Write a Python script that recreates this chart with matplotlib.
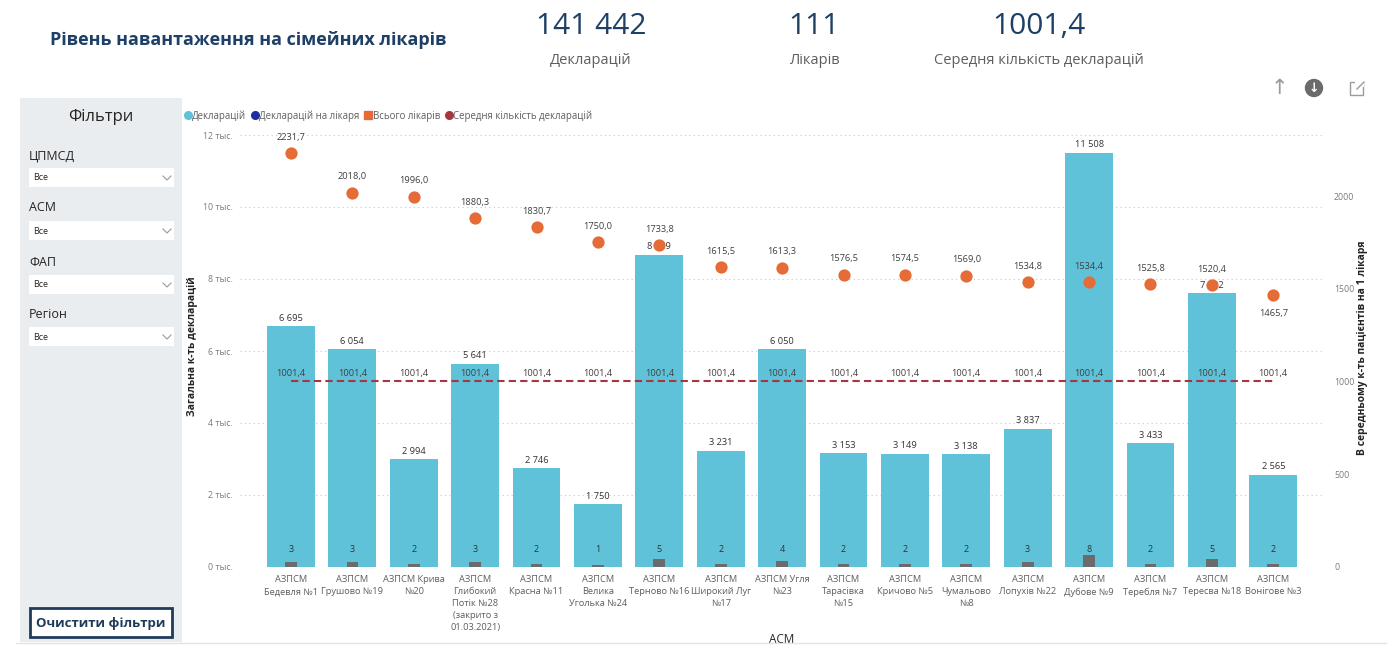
import matplotlib
matplotlib.use('Agg')
import matplotlib.pyplot as plt
from matplotlib.patches import Rectangle, Ellipse
from matplotlib.lines import Line2D
import numpy as np

plt.rcParams['font.family'] = ['Open Sans', 'DejaVu Sans']

W, H = 1387, 655

# ---------------- data ----------------
categories = [
    "АЗПСМ\nБедевля №1", "АЗПСМ\nГрушово №19", "АЗПСМ Крива\n№20",
    "АЗПСМ\nГлибокий\nПотік №28\n(закрито з\n01.03.2021)",
    "АЗПСМ\nКрасна №11", "АЗПСМ\nВелика\nУголька №24", "АЗПСМ\nТерново №16",
    "АЗПСМ\nШирокий Луг\n№17", "АЗПСМ Угля\n№23", "АЗПСМ\nТарасівка\n№15",
    "АЗПСМ\nКричово №5", "АЗПСМ\nЧумальово\n№8", "АЗПСМ\nЛопухів №22",
    "АЗПСМ\nДубове №9", "АЗПСМ\nТеребля №7", "АЗПСМ\nТересва №18",
    "АЗПСМ\nВонігове №3",
]
declarations = [6695, 6054, 2994, 5641, 2746, 1750, 8669, 3231, 6050,
                3153, 3149, 3138, 3837, 11508, 3433, 7602, 2565]
doctors = [3, 3, 2, 3, 2, 1, 5, 2, 4, 2, 2, 2, 3, 8, 2, 5, 2]
decl_per_doctor = [2231.7, 2018.0, 1996.0, 1880.3, 1830.7, 1750.0, 1733.8,
                   1615.5, 1613.3, 1576.5, 1574.5, 1569.0, 1534.8, 1534.4,
                   1525.8, 1520.4, 1465.7]
avg_declarations = 1001.4

left_ticks = [0, 2000, 4000, 6000, 8000, 10000, 12000]
left_tick_labels = ["0 тыс.", "2 тыс.", "4 тыс.", "6 тыс.", "8 тыс.", "10 тыс.", "12 тыс."]
right_ticks = [0, 500, 1000, 1500, 2000]

kpi_values = ["141 442", "111", "1001,4"]
kpi_labels = ["Декларацій", "Лікарів", "Середня кількість декларацій"]
legend_labels = ["Декларацій", "Декларацій на лікаря", "Всього лікарів",
                 "Середня кількість декларацій"]
filter_labels = ["ЦПМСД", "АСМ", "ФАП", "Регіон"]

# ---------------- colours ----------------
BAR = '#5fc2d9'
ORANGE = '#e66c37'
DARKRED = '#a4373f'
GREY_BAR = '#6b6b6b'
NAVY = '#1e4066'
TXT = '#333333'
TICK = '#7a7a7a'


def fx(x):
    return x / W


def fy(y):
    return 1 - y / H


fig = plt.figure(figsize=(W / 100, H / 100), dpi=100)
fig.patch.set_facecolor('white')

# ---------------- header ----------------
fig.text(fx(50), fy(40), "Рівень навантаження на сімейних лікарів",
         fontsize=13, fontweight='bold', color=NAVY, va='center', ha='left')
kpi_x = [591, 814, 1039]
for xc, v, lab in zip(kpi_x, kpi_values, kpi_labels):
    fig.text(fx(xc), fy(27), v, fontsize=21.5, color=NAVY, ha='center', va='center',
             fontweight='medium')
    fig.text(fx(xc), fy(60), lab, fontsize=10.5, color='#605e5c', ha='center', va='center')

# icons
fig.text(fx(1279), fy(88), "↑", fontsize=15, color='#9a9a9a', ha='center', va='center',
         family=['DejaVu Sans'])
fig.add_artist(Ellipse((fx(1314), fy(88)), 17 / W, 17 / H, transform=fig.transFigure,
                       color='#6b6b6b'))
fig.text(fx(1314), fy(88), "↓", fontsize=9, color='white', ha='center', va='center',
         fontweight='bold', family=['DejaVu Sans'])
fig.add_artist(Rectangle((fx(1350), fy(95)), 13 / W, 13 / H, transform=fig.transFigure,
                         fill=False, edgecolor='#9a9a9a', lw=1))
fig.add_artist(Rectangle((fx(1355), fy(95 - 8)), 9 / W, 9 / H, transform=fig.transFigure,
                         facecolor='white', edgecolor='none'))
fig.add_artist(Line2D([fx(1357), fx(1364)], [fy(89), fy(82)], transform=fig.transFigure,
                      color='#9a9a9a', lw=1))

# ---------------- filter panel ----------------
fig.add_artist(Rectangle((fx(20), fy(642)), 162 / W, 544 / H, transform=fig.transFigure,
                         facecolor='#eaedef', edgecolor='none', zorder=0))
fig.text(fx(101), fy(117), "Фільтри", fontsize=12, color='#252423', ha='center', va='center')
label_y = [156, 208, 262, 315]
box_y = [168, 221, 275, 327]
for lab, ly, by in zip(filter_labels, label_y, box_y):
    fig.text(fx(29), fy(ly), lab, fontsize=9, color='#252423', ha='left', va='center')
    fig.add_artist(Rectangle((fx(29), fy(by + 19)), 145 / W, 19 / H, transform=fig.transFigure,
                             facecolor='white', edgecolor='none'))
    fig.text(fx(33), fy(by + 10), "Все", fontsize=6.5, color='#252423', ha='left', va='center')
    fig.add_artist(Line2D([fx(163), fx(167), fx(171)], [fy(by + 8), fy(by + 12), fy(by + 8)],
                          transform=fig.transFigure, color='#9a9a9a', lw=0.8))

fig.add_artist(Rectangle((fx(30), fy(637)), 142 / W, 29 / H, transform=fig.transFigure,
                         facecolor='white', edgecolor='#1f3b5c', lw=2))
fig.text(fx(101), fy(623), "Очистити фільтри", fontsize=9.5, fontweight='bold',
         color='#1f3b5c', ha='center', va='center')

# ---------------- chart ----------------
n = len(categories)
x = np.arange(n)

ax = fig.add_axes([fx(240), fy(567), (1323 - 240) / W, 432 / H])
ax.set_xlim(-0.83, 16.81)
ax.set_ylim(0, 12000)
ax.bar(x, declarations, width=0.78, color=BAR, zorder=2)
ax.set_axisbelow(True)
ax.grid(axis='y', linestyle=(0, (1, 3)), color='#c8c8c8', lw=0.8)
ax.set_yticks(left_ticks)
ax.set_yticklabels(left_tick_labels)
ax.set_xticks(x)
ax.set_xticklabels(categories, linespacing=1.4)
ax.tick_params(axis='y', length=0, pad=5, labelsize=6.3, labelcolor=TICK)
ax.tick_params(axis='x', length=0, pad=6, labelsize=6.7, labelcolor='#605e5c')
for sp in ax.spines.values():
    sp.set_visible(False)
for i, v in enumerate(declarations):
    ax.annotate(f"{v:,}".replace(',', ' '), (i, v), xytext=(0, 2.5),
                textcoords='offset points', ha='center', va='bottom',
                fontsize=6.7, color=TXT)

# doctors (small grey bars)
ax3 = ax.twinx()
ax3.set_ylim(0, 280)
ax3.bar(x, doctors, width=0.19, color=GREY_BAR, zorder=3)
for i, d in enumerate(doctors):
    ax3.annotate(str(d), (i, 0), xytext=(0, 12.5), textcoords='offset points',
                 ha='center', va='center', fontsize=6.5, color=TXT)
ax3.axis('off')

# declarations per doctor + average line
ax2 = ax.twinx()
ax2.set_ylim(0, 2329)
ax2.plot(x, np.full(n, avg_declarations), linestyle=(0, (3.5, 2)), color=DARKRED, lw=1.5,
         zorder=3)
ax2.scatter(x, decl_per_doctor, s=78, color=ORANGE, zorder=4, linewidths=0)
for i, v in enumerate(decl_per_doctor):
    below = (i == n - 1)
    ax2.annotate(f"{v:.1f}".replace('.', ','), (i, v),
                 xytext=(0, -13 if below else 11.5), textcoords='offset points',
                 ha='center', va='center', fontsize=6.7, color='#404040', zorder=5)
    ax2.annotate(f"{avg_declarations:.1f}".replace('.', ','), (i, avg_declarations),
                 xytext=(0, 5.8), textcoords='offset points',
                 ha='center', va='center', fontsize=6.7, color='#404040', zorder=5)
ax2.set_yticks(right_ticks)
ax2.set_yticklabels([str(t) for t in right_ticks])
ax2.tick_params(axis='y', length=0, pad=8, labelsize=6.3, labelcolor=TICK)
for sp in ax2.spines.values():
    sp.set_visible(False)

# axis titles
fig.text(fx(192), fy(346), "Загальна к-ть декларацій", rotation=90, fontsize=7.5,
         fontweight='bold', color='#252423', ha='center', va='center')
fig.text(fx(1362), fy(348), "В середньому к-ть пацієнтів на 1 лікаря", rotation=90,
         fontsize=7.5, fontweight='bold', color='#252423', ha='center', va='center')
fig.text(fx(782), fy(633), "АСМ", fontsize=8.5, color='#252423', ha='center', va='top')
fig.add_artist(Rectangle((fx(190), 0), 1197 / W, (H - 643.5) / H, transform=fig.transFigure,
                         facecolor='white', edgecolor='none', zorder=10))
# bottom separator
fig.add_artist(Line2D([fx(16), fx(1387)], [fy(643), fy(643)], transform=fig.transFigure,
                      color='#e3e3e3', lw=1, zorder=11))

# legend
handles = [
    Line2D([], [], marker='o', ls='', color=BAR, markersize=5.5),
    Line2D([], [], marker='o', ls='', color='#1f2fa0', markersize=5.5),
    Line2D([], [], marker='s', ls='', color=ORANGE, markersize=5.5),
    Line2D([], [], marker='o', ls='', color=DARKRED, markersize=5.5),
]
fig.legend(handles, legend_labels, loc='center left', bbox_to_anchor=(fx(185), fy(116)),
           ncol=4, frameon=False, fontsize=6.9, handlelength=0.6, handletextpad=0.15,
           columnspacing=0.6, borderpad=0, borderaxespad=0, labelcolor='#605e5c')

fig.savefig('out.png', dpi=100)
